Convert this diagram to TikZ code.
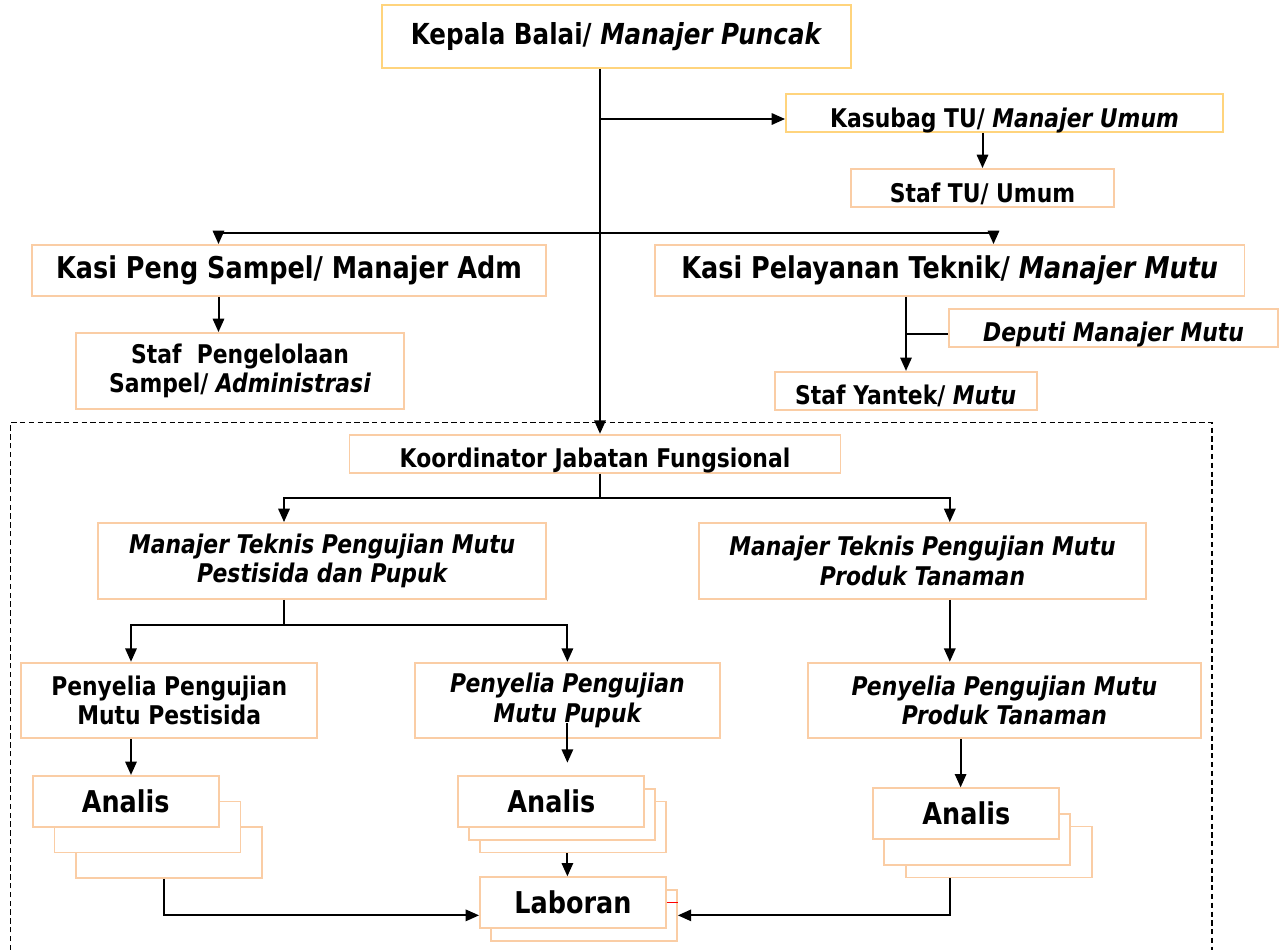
\documentclass[tikz,border=0pt]{standalone}
\usepackage{fontspec}
\setmainfont{DejaVu Sans}[FakeStretch=0.85]
\usetikzlibrary{arrows.meta}

\definecolor{gold}{RGB}{255,212,125}
\definecolor{peach}{RGB}{250,205,165}

\tikzset{
  box/.style={draw=peach, fill=white, line width=1.4pt, inner sep=0pt, align=center},
  wh/.style 2 args={minimum width={#1*0.75pt}, minimum height={#2*0.75pt}},
  big/.style={font=\fontsize{22.5}{27}\selectfont\bfseries},
  mid/.style={font=\fontsize{19.3}{22}\selectfont\bfseries},
  midit/.style={font=\fontsize{19.3}{22}\selectfont\bfseries\itshape},
  low/.style={text height=24.75pt, text depth=3.75pt},
  link/.style={line width=1.5pt},
  arr/.style={link, -{Triangle[length=10pt,width=8.5pt]}},
  arr2/.style={link, {Triangle[length=10pt,width=8.5pt]}-{Triangle[length=10pt,width=8.5pt]}},
}

\begin{document}
\begin{tikzpicture}[x=0.75pt,y=0.75pt,yscale=-1,xscale=1]
\useasboundingbox (0,0) rectangle (1286,950);

%Dashed frame of the functional group
\draw [dash pattern=on 4pt off 2.6pt, line width=1pt] (10.5,950) -- (10.5,422.7) -- (1212,422.7) -- (1212,950);

% Upper part
\node[box, draw=gold, wh={469}{63}, big, font=\fontsize{21.7}{26}\selectfont\bfseries] (kepala) at (616.5,36.5) {Kepala Balai/ \textit{Manajer Puncak}};
\node[box, draw=gold, wh={437}{38}, mid, low] (kasubag) at (1004.5,113) {Kasubag TU/ \textit{Manajer Umum}};
\node[box, wh={263}{38}, mid, low] (staftu) at (982.5,188) {Staf TU/ Umum};
\node[box, wh={514}{51}, big] (kasipeng) at (289,270.5) {Kasi Peng Sampel/ Manajer Adm};
\node[box, wh={589.5}{51}, big] (kasiyan) at (949.75,270.5) {Kasi Pelayanan Teknik/ \textit{Manajer Mutu}};
\node[box, wh={328}{76}, mid] (stafpeng) at (240,371) {Staf\ \ Pengelolaan\\Sampel/ \textit{Administrasi}};
\node[box, wh={329}{38}, midit, low] (deputi) at (1113.5,327.7) {Deputi Manajer Mutu};
\node[box, wh={262}{38}, mid, low] (stafyan) at (905.75,390.85) {Staf Yantek/ \textit{Mutu}};

% Functional group
\node[box, wh={491}{38}, mid, low] (koord) at (595,453.7) {Koordinator Jabatan Fungsional};
\node[box, wh={448}{76}, midit] (mtpp) at (322.2,561) {Manajer Teknis Pengujian Mutu\\Pestisida dan Pupuk};
\node[box, wh={447}{76}, midit] (mtpt) at (922.5,561) {Manajer Teknis Pengujian Mutu\\Produk Tanaman};
\node[box, wh={295.6}{75.6}, mid] (pypest) at (169.2,700.5) {Penyelia Pengujian\\Mutu Pestisida};
\node[box, wh={305.3}{75.6}, midit] (pypupuk) at (567.4,700.5) {Penyelia Pengujian\\Mutu Pupuk};
\node[box, wh={393.3}{75.6}, midit] (pyprod) at (1004.35,700.5) {Penyelia Pengujian Mutu\\Produk Tanaman};

% Analis stacks
\node[box, wh={186}{51}] (anA3) at (169.15,852.35) {};
\node[box, wh={186}{51}] (anA2) at (147.55,827) {};
\node[box, wh={186}{51}, big] (anA) at (125.7,801.4) {Analis};
\node[box, wh={186}{51}] (anB3) at (573.2,827) {};
\node[box, wh={186}{51}] (anB2) at (562.1,814.2) {};
\node[box, wh={186}{51}, big] (anB) at (551.35,801.5) {Analis};
\node[box, wh={186}{51}] (anC3) at (998.8,852) {};
\node[box, wh={186}{51}] (anC2) at (977,839.2) {};
\node[box, wh={186}{51}, big] (anC) at (966.3,813.8) {Analis};
\node[box, wh={186}{50.7}] (laboB) at (583.9,915.35) {};
\node[box, wh={186}{50.4}, big] (labo) at (573,902.5) {Laboran};

% Line positions
\coordinate (trunk) at (600,232.5);
\coordinate (tu) at (600,119);
\coordinate (lp) at (218.5,232.5);
\coordinate (rp) at (993.5,232.5);
\coordinate (dm) at (906,334);
\coordinate (kl) at (284,497.7);
\coordinate (kr) at (949.8,497.7);
\coordinate (pl) at (131,625);
\coordinate (pr) at (567.4,625);
\coordinate (cm) at (960.6,0);
\coordinate (al) at (163.8,0);
\coordinate (pupukin) at (567.4,723);
\coordinate (pupukout) at (567.4,762.7);

% Connectors
\draw[arr] (trunk |- kepala.south) -- (trunk |- koord.north);
\draw[arr] (tu) -- (tu -| kasubag.west);
\draw[arr] (staftu.north |- kasubag.south) -- (staftu.north);
\draw[arr2] (lp |- kasipeng.north) -- (lp) -- (rp) -- (rp |- kasiyan.north);
\draw[arr] (lp |- kasipeng.south) -- (lp |- stafpeng.north);
\draw[arr] (dm |- kasiyan.south) -- (dm |- stafyan.north);
\draw[link] (dm) -- (dm -| deputi.west);
\draw[link] (trunk |- koord.south) -- (trunk |- kl);
\draw[arr2] (kl |- mtpp.north) -- (kl) -- (kr) -- (kr |- mtpt.north);
\draw[link] (kl |- mtpp.south) -- (kl |- pl);
\draw[arr2] (pl |- pypest.north) -- (pl) -- (pr) -- (pr |- pypupuk.north);
\draw[arr] (kr |- mtpt.south) -- (kr |- pyprod.north);
\draw[arr] (pl |- pypest.south) -- (pl |- anA.north);
\draw[arr] (pupukin) -- (pupukout);
\draw[arr] (cm |- pyprod.south) -- (cm |- anC.north);
\draw[arr] (pr |- anB3.south) -- (pr |- labo.north);
\draw[arr] (al |- anA3.south) |- (labo.west |- laboB.center);
\draw[arr] (kr |- anC3.south) |- (laboB.east);
\draw[red, line width=1.2pt] (labo.east) -- (labo.east -| laboB.east);

\end{tikzpicture}
\end{document}
